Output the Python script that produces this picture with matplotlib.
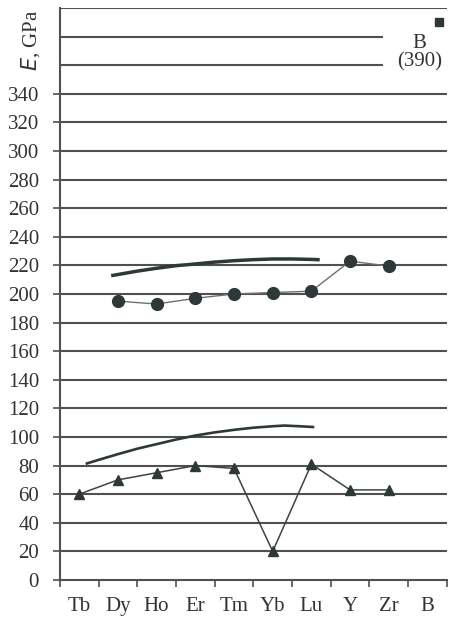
import matplotlib.pyplot as plt
import numpy as np

elements = ['Tb', 'Dy', 'Ho', 'Er', 'Tm', 'Yb', 'Lu', 'Y', 'Zr', 'B']
# triangle series, Tb..Zr
tri_vals = [60, 70, 75, 80, 78, 20, 81, 63, 63]
# circle series, Dy..Zr
circ_vals = [195, 193, 197, 200, 201, 202, 223, 219.5]
# smooth trend curves
upper_x = [0.87, 1.5, 2, 2.5, 3, 3.5, 4, 4.5, 5, 5.5, 6, 6.17]
upper_y = [213, 216, 218, 219.8, 221, 222.3, 223.3, 224, 224.5, 224.5, 224.2, 224]
lower_x = [0.2, 0.5, 1, 1.5, 2, 2.5, 3, 3.5, 4, 4.5, 5, 5.3, 5.7, 6.04]
lower_y = [81.5, 84, 88, 91.8, 95, 98.2, 101, 103.2, 105, 106.5, 107.5, 108, 107.5, 107]
b_value = 390

plt.rcParams['font.family'] = ['Liberation Serif', 'DejaVu Serif']
ink = '#2f3838'
grid = '#505050'
txt = '#333333'

fig = plt.figure(figsize=(4.5, 6.17), dpi=100)
ax = fig.add_axes([0.133, 0.06, 0.86, 0.927])
ax.set_xlim(-0.5, 9.5)
ax.set_ylim(0, 400)

for v in range(20, 401, 20):
    end = 7.85 if v in (360, 380) else 9.5
    ax.hlines(v, -0.5, end, color=grid, lw=1.5, zorder=1)

ax.plot(upper_x, upper_y, color=ink, lw=2.5, zorder=2)
ax.plot(lower_x, lower_y, color=ink, lw=1.9, zorder=2)
ax.plot(range(1, 9), circ_vals, color='#6a7070', lw=1.0, marker='o',
        ms=8.5, mfc=ink, mec=ink, zorder=3)
ax.plot(range(0, 9), tri_vals, color='#3a4444', lw=1.1, marker='^',
        ms=7, mfc=ink, mec=ink, zorder=3)
ax.plot([9.3], [b_value], marker='s', ms=6, color=ink, ls='none', zorder=3)
ax.text(8.8, 375, 'B', ha='center', va='center', fontsize=15, color=txt)
ax.text(8.8, 362, '(390)', ha='center', va='center', fontsize=15, color=txt)

ax.set_yticks(range(0, 341, 20))
ax.set_xticks(range(10))
ax.set_xticklabels(elements)
ax.set_xticks(np.arange(-0.5, 9.6, 1), minor=True)
ax.tick_params(axis='x', which='major', length=0, pad=12, labelsize=15, colors=txt)
ax.tick_params(axis='x', which='minor', length=5, width=1.2, color=grid, direction='out')
ax.tick_params(axis='y', length=5, width=1.2, color=grid, pad=10, labelsize=15, labelcolor=txt)
for s in ('top', 'right'):
    ax.spines[s].set_visible(False)
for s in ('left', 'bottom'):
    ax.spines[s].set_color(grid)
    ax.spines[s].set_linewidth(1.5)

fig.text(0.067, 0.935, r'$\it{E}$, GPa', rotation=90, ha='center', va='center',
         fontsize=15, color=txt)

fig.savefig('out.png', dpi=100)
